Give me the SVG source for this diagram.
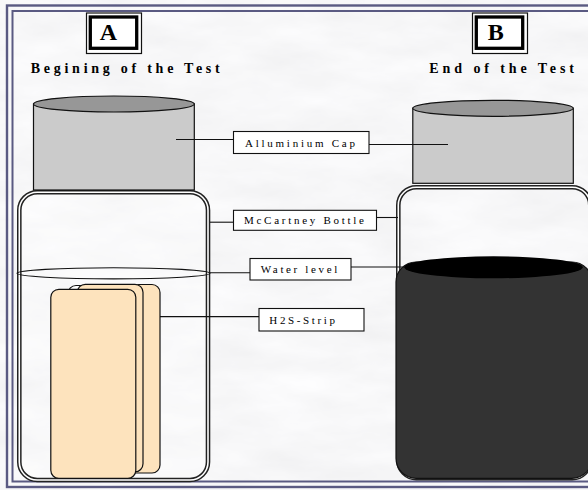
<svg xmlns="http://www.w3.org/2000/svg" width="588" height="490" viewBox="0 0 588 490">
  <defs>
    <filter id="paper" x="0" y="0" width="100%" height="100%">
      <feTurbulence type="fractalNoise" baseFrequency="0.012 0.035" numOctaves="4" seed="7"/>
      <feColorMatrix type="matrix" values="0.13 0 0 0 0.865  0.13 0 0 0 0.865  0.13 0 0 0 0.875  0 0 0 0 1"/>
    </filter>
    <style>
      .frame { fill: none; stroke: #5a5a82; }
      .head { font-family: "Liberation Serif", "Times New Roman", serif; font-weight: bold; fill: #000; }
      .letter { font-family: "Liberation Serif", "Times New Roman", serif; font-weight: bold; font-size: 24px; fill: #000; text-anchor: middle; }
      .label-box { fill: #ffffff; stroke: #111; stroke-width: 1.1; }
      .label { font-family: "Liberation Serif", "Times New Roman", serif; font-size: 11px; fill: #000; }
      .cap-body { fill: #cbcbcb; stroke: #111; stroke-width: 1.2; }
      .cap-top { fill: #979797; stroke: #111; stroke-width: 1.2; }
      .glass-out { fill: none; stroke: #222; stroke-width: 4.6; }
      .glass-in { fill: none; stroke: #ffffff; stroke-width: 1.6; }
      .strip { fill: #fde3bd; stroke: #111; stroke-width: 1.2; }
      .conn line { stroke: #111; stroke-width: 1.1; }
    </style>
  </defs>

  <!-- textured paper background -->
  <rect x="0" y="0" width="588" height="490" fill="#ececec"/>
  <rect x="0" y="0" width="588" height="490" filter="url(#paper)"/>

  <!-- double page frame -->
  <rect class="frame" x="7" y="5.5" width="600" height="481.5" stroke-width="2.4"/>
  <rect class="frame" x="12.5" y="11" width="600" height="470.5" stroke-width="2"/>

  <!-- panel headers -->
  <g id="panel-a-header">
    <rect x="86.5" y="13" width="55" height="40.5" fill="#fff" stroke="#111" stroke-width="1.2"/>
    <rect x="90.3" y="17" width="46.4" height="31.3" fill="#fff" stroke="#000" stroke-width="3.3"/>
    <text class="letter" x="108.5" y="39.5">A</text>
    <text class="head" x="30.7" y="72.7" font-size="14" textLength="189" lengthAdjust="spacing">Begining of the Test</text>
  </g>
  <g id="panel-b-header">
    <rect x="472.5" y="13" width="55" height="40.5" fill="#fff" stroke="#111" stroke-width="1.2"/>
    <rect x="476.3" y="17" width="46.4" height="31.3" fill="#fff" stroke="#000" stroke-width="3.3"/>
    <text class="letter" x="495.7" y="39.5">B</text>
    <text class="head" x="429.3" y="72.7" font-size="14" textLength="144.7" lengthAdjust="spacing">End of the Test</text>
  </g>

  <!-- bottle A: start of the test -->
  <g id="bottle-a">
    <rect x="19.3" y="192.2" width="188.7" height="287.8" rx="18" ry="18" fill="#ffffff" fill-opacity="0.3"/>
    <rect class="glass-out" x="19.3" y="192.2" width="188.7" height="287.8" rx="18" ry="18"/>
    <rect class="glass-in" x="19.3" y="192.2" width="188.7" height="287.8" rx="18" ry="18"/>
    <rect class="cap-body" x="33.5" y="104" width="160.8" height="86"/>
    <ellipse class="cap-top" cx="113.9" cy="104" rx="80.4" ry="8"/>
    <ellipse id="water-a" cx="113.5" cy="273.3" rx="96.5" ry="5.6" fill="none" stroke="#111" stroke-width="1.1"/>
  </g>

  <!-- test strips in bottle A -->
  <g id="strips-a">
    <rect class="strip" x="80" y="284.5" width="80" height="188.5" rx="8" ry="8"/>
    <rect x="68" y="285.5" width="70" height="186" rx="8" ry="8" fill="#fff" stroke="#111" stroke-width="1.2"/>
    <rect class="strip" x="77.3" y="284.3" width="65.7" height="187.5" rx="8" ry="8"/>
    <rect class="strip" x="50.8" y="289.3" width="85" height="189" rx="8" ry="8"/>
  </g>

  <!-- bottle B: end of the test -->
  <g id="bottle-b">
    <rect class="glass-out" x="398.3" y="187.2" width="192" height="291" rx="18" ry="18"/>
    <rect class="glass-in" x="398.3" y="187.2" width="192" height="291" rx="18" ry="18"/>
    <rect class="cap-body" x="412.8" y="108.3" width="160.5" height="75"/>
    <ellipse class="cap-top" cx="493" cy="108.3" rx="80.2" ry="8"/>
    <rect id="liquid-b" x="396" y="262" width="196" height="216.3" rx="20" ry="20" fill="#333333" stroke="#111" stroke-width="1.2"/>
    <ellipse id="water-b" cx="493.5" cy="267.3" rx="89.2" ry="11" fill="#000"/>
  </g>

  <!-- leader lines -->
  <g class="conn" id="connectors">
    <line x1="176" y1="139.5" x2="233.5" y2="139.5"/>
    <line x1="369" y1="144.5" x2="448" y2="144.5"/>
    <line x1="210" y1="222.2" x2="233.5" y2="222.2"/>
    <line x1="376.5" y1="217.5" x2="398" y2="217.5"/>
    <line x1="210" y1="272.7" x2="250" y2="272.7"/>
    <line x1="351" y1="267" x2="405" y2="267"/>
    <line x1="160" y1="316.6" x2="259" y2="316.6"/>
  </g>

  <!-- labels -->
  <g id="label-cap">
    <rect class="label-box" x="233.5" y="131.5" width="135.5" height="22"/>
    <text class="label" x="245" y="147" textLength="110" lengthAdjust="spacing">Alluminium Cap</text>
  </g>
  <g id="label-bottle">
    <rect class="label-box" x="233.5" y="210.3" width="143" height="20"/>
    <text class="label" x="244" y="223.5" textLength="120" lengthAdjust="spacing">McCartney Bottle</text>
  </g>
  <g id="label-water">
    <rect class="label-box" x="250" y="258.5" width="101" height="21.5"/>
    <text class="label" x="260.7" y="272.7" textLength="76.6" lengthAdjust="spacing">Water level</text>
  </g>
  <g id="label-strip">
    <rect class="label-box" x="259" y="308.5" width="105" height="22.5"/>
    <text class="label" x="269.3" y="324" textLength="65.7" lengthAdjust="spacing">H2S-Strip</text>
  </g>
</svg>
